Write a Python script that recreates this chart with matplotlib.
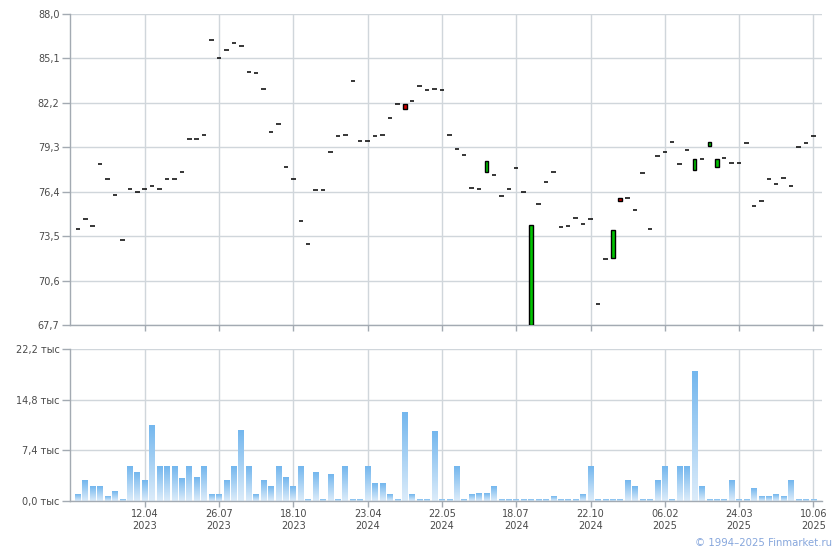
import numpy as np
import matplotlib
matplotlib.use("Agg")
import matplotlib.pyplot as plt
from matplotlib.colors import LinearSegmentedColormap

# --- data (one point per trading day) ---
closes = [
    74.01, 74.66, 74.21, 78.24, 77.26, 76.22, 73.25, 76.61, 76.42, 76.61,
    76.81, 76.61, 77.26, 77.26, 77.72, 79.87, 79.87, 80.13, 86.31, 85.14,
    85.66, 86.11, 85.92, 84.25, 84.16, 83.12, 80.32, 80.84, 78.04, 77.26,
    74.53, 73.03, 76.55, 76.55, 79.02, 80.06, 80.13, 83.64, 79.74, 79.74,
    80.06, 80.13, 81.23, 82.14, 81.82, 82.34, 83.31, 83.05, 83.12, 83.05,
    80.13, 79.22, 78.83, 76.68, 76.61, 78.43, 77.52, 76.16, 76.61, 77.98,
    76.42, 74.27, 75.64, 77.07, 77.72, 74.14, 74.21, 74.73, 74.34, 74.66,
    69.13, 72.06, 73.94, 75.83, 76.03, 75.25, 77.65, 74.01, 78.76, 79.02,
    79.67, 78.24, 79.15, 78.54, 78.56, 79.65, 78.56, 78.63, 78.30, 78.30,
    79.61, 75.51, 75.83, 77.26, 76.94, 77.33, 76.81, 79.35, 79.61, 80.06,
]

# days where open differs from close (all others: open == close)
body_days = [44, 55, 61, 72, 73, 83, 85, 86]
body_opens = [82.14, 77.72, 67.70, 72.12, 76.00, 77.85, 79.41, 78.04]

volume = [  # thousands
    1.02, 3.07, 2.05, 2.05, 0.73, 1.46, 0.29, 4.98, 4.10, 3.07,
    11.12, 4.98, 4.98, 4.98, 3.22, 4.98, 3.51, 4.98, 1.02, 1.02,
    3.07, 4.98, 10.39, 4.98, 1.02, 3.07, 2.05, 4.98, 3.51, 2.05,
    4.98, 0.15, 4.10, 0.15, 3.95, 0.15, 4.98, 0.29, 0.15, 4.98,
    2.49, 2.49, 1.02, 0.15, 13.02, 1.02, 0.15, 0.15, 10.24, 0.15,
    0.15, 4.98, 0.29, 1.02, 1.17, 1.17, 2.05, 0.15, 0.29, 0.15,
    0.15, 0.15, 0.15, 0.15, 0.63, 0.15, 0.15, 0.15, 1.02, 4.98,
    0.15, 0.15, 0.15, 0.15, 3.07, 2.05, 0.15, 0.15, 3.07, 4.98,
    0.15, 4.98, 4.98, 19.02, 2.05, 0.29, 0.15, 0.15, 3.07, 0.15,
    0.29, 1.76, 0.59, 0.59, 1.02, 0.59, 3.07, 0.15, 0.15, 0.15,
]

date_ticks = [9, 19, 29, 39, 49, 59, 69, 79, 89, 99]
date_labels = ["12.04\n2023", "26.07\n2023", "18.10\n2023", "23.04\n2024", "22.05\n2024",
               "18.07\n2024", "22.10\n2024", "06.02\n2025", "24.03\n2025", "10.06\n2025"]

price_ticks = [67.7, 70.6, 73.5, 76.4, 79.3, 82.2, 85.1, 88.0]
vol_ticks = [0.0, 7.4, 14.8, 22.2]

# --- styling ---
GRID = "#d0d6db"
AXIS = "#a3aab2"
TXT = "#4a4a4a"
plt.rcParams["font.family"] = ["DejaVu Sans"]

fig = plt.figure(figsize=(8.4, 5.5), dpi=100)
ax1 = fig.add_axes([0.0833, 0.4082, 0.8952, 0.5664])
ax2 = fig.add_axes([0.0833, 0.0891, 0.8952, 0.2758])

xlim = (-1.06, 100.15)
n = len(closes)
idx = np.arange(n)


def style_axis(ax):
    for s in ["top", "right"]:
        ax.spines[s].set_visible(False)
    for s in ["left", "bottom"]:
        ax.spines[s].set_color(AXIS)
        ax.spines[s].set_linewidth(1.0)
    ax.set_axisbelow(True)
    ax.grid(True, color=GRID, linewidth=1.0)
    ax.tick_params(axis="y", length=5.5, width=1, color=AXIS, labelcolor=TXT, labelsize=7, pad=2)
    ax.tick_params(axis="x", length=4.5, width=1, color=AXIS, labelcolor=TXT, labelsize=7, pad=1.5)
    ax.set_xticks(date_ticks)
    ax.set_xlim(*xlim)


# --- price panel ---
style_axis(ax1)
opens = list(closes)
for d, o in zip(body_days, body_opens):
    opens[d] = o

doji = [i for i in idx if opens[i] == closes[i]]
ax1.hlines([closes[i] for i in doji], [i - 0.3 for i in doji], [i + 0.3 for i in doji],
           color="black", linewidth=1.1, zorder=3)

for d in body_days:
    o, c = opens[d], closes[d]
    col = "#00c400" if c > o else "#d00000"
    ax1.bar(d, abs(c - o), bottom=min(o, c), width=0.5, color=col,
            edgecolor="black", linewidth=1.0, zorder=3)

ax1.set_ylim(67.7, 88.0)
ax1.set_yticks(price_ticks)
ax1.set_yticklabels([f"{v:.1f}".replace(".", ",") for v in price_ticks])
ax1.set_xticklabels([])

# --- volume panel with per-bar gradient ---
style_axis(ax2)
cmap = LinearSegmentedColormap.from_list("vol", ["#dcecfa", "#74b7ee"])
grad = np.linspace(0, 1, 64).reshape(-1, 1)
for i, v in enumerate(volume):
    ax2.imshow(grad, extent=(i - 0.38, i + 0.38, 0, v), origin="lower",
               cmap=cmap, aspect="auto", zorder=2, interpolation="bilinear")

ax2.set_xlim(*xlim)
ax2.set_ylim(0, 22.2)
ax2.set_yticks(vol_ticks)
ax2.set_yticklabels([f"{v:.1f}".replace(".", ",") + " тыс" for v in vol_ticks])
ax2.set_xticklabels(date_labels, linespacing=1.25)

fig.text(0.990, 0.0127, "© 1994–2025 Finmarket.ru", color="#86a6dc",
         fontsize=7.3, ha="right", va="center")

fig.savefig("out.png", dpi=100)
